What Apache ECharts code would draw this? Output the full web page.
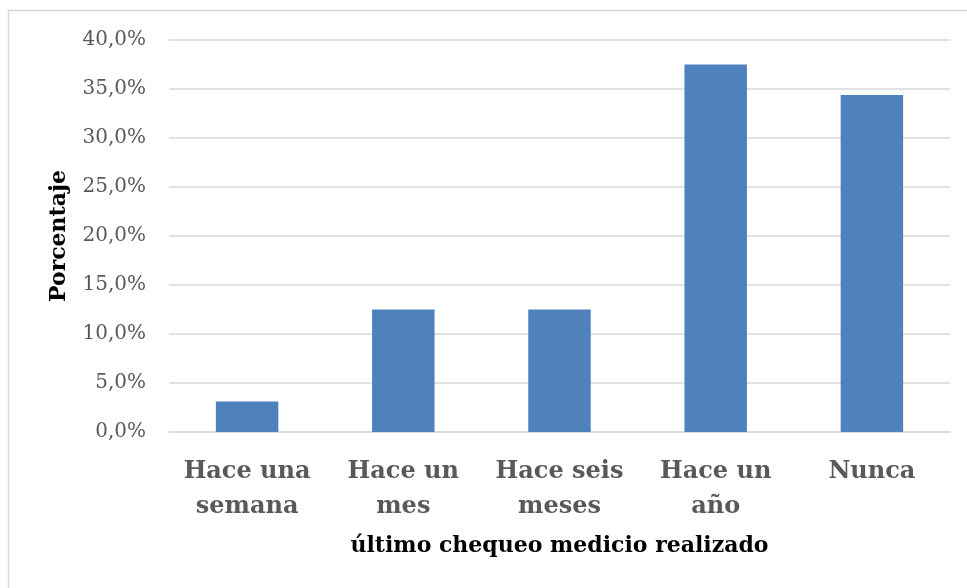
<!DOCTYPE html>
<html>
<head>
<meta charset="utf-8">
<script src="https://cdn.jsdelivr.net/npm/echarts@6/dist/echarts.min.js"></script>
<style>
  html, body { margin: 0; padding: 0; background: #fff; }
  #main { width: 967px; height: 588px; }
</style>
</head>
<body>
<div id="main"></div>
<script>
// categorias y porcentajes
const categorias = ['Hace una\nsemana', 'Hace un\nmes', 'Hace seis\nmeses', 'Hace un\naño', 'Nunca'];
const porcentajes = [3.1, 12.5, 12.5, 37.5, 34.4];
const yMin = 0, yMax = 40, yStep = 5;

const fontSerif = '"DejaVu Serif", "Liberation Serif", serif';

const chart = echarts.init(document.getElementById('main'));

const option = {
    animation: false,
    backgroundColor: '#fff',
    graphic: [{
        type: 'rect',
        shape: { x: 8.5, y: 10.5, width: 1200, height: 1200 },
        style: { fill: 'none', stroke: '#d9d9d9', lineWidth: 1.5 },
        silent: true
    }],
    grid: {
        left: 169,
        right: 17,
        top: 40,
        bottom: 156
    },
    xAxis: {
        type: 'category',
        data: categorias,
        name: 'último chequeo medicio realizado',
        nameLocation: 'middle',
        nameGap: 103,
        nameTextStyle: {
            fontFamily: fontSerif,
            fontWeight: 'bold',
            fontSize: 22,
            color: '#000'
        },
        axisLine: { lineStyle: { color: '#d9d9d9', width: 1.5 } },
        axisTick: { show: false },
        axisLabel: {
            interval: 0,
            margin: 22,
            fontFamily: fontSerif,
            fontWeight: 'bold',
            fontSize: 24,
            lineHeight: 35,
            color: '#595959'
        }
    },
    yAxis: {
        type: 'value',
        min: yMin,
        max: yMax,
        interval: yStep,
        name: 'Porcentaje',
        nameLocation: 'middle',
        nameGap: 99,
        nameRotate: 90,
        nameTextStyle: {
            fontFamily: fontSerif,
            fontWeight: 'bold',
            fontSize: 22,
            color: '#000'
        },
        axisLine: { show: false },
        axisTick: { show: false },
        splitLine: { lineStyle: { color: '#d9d9d9', width: 1.5 } },
        axisLabel: {
            margin: 23,
            fontFamily: fontSerif,
            fontSize: 20,
            color: '#595959',
            formatter: v => v.toFixed(1).replace('.', ',') + '%'
        }
    },
    series: [{
        type: 'bar',
        data: porcentajes,
        barWidth: '40%',
        itemStyle: { color: '#4f81bd' }
    }]
};

chart.setOption(option);
</script>
</body>
</html>
